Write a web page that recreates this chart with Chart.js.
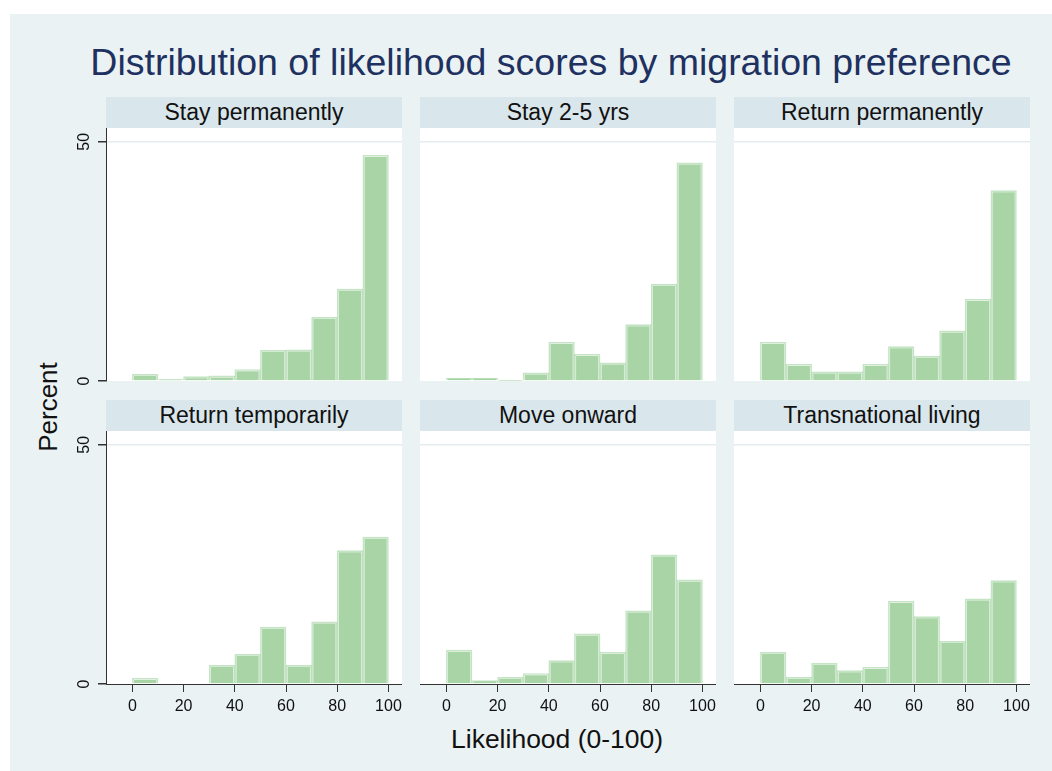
<!DOCTYPE html>
<html>
<head>
<meta charset="utf-8">
<script src="https://cdn.jsdelivr.net/npm/chart.js@4.4.1/dist/chart.umd.min.js"></script>
<style>
  body { margin: 0; width: 1052px; height: 771px; background: #fff; position: relative; overflow: hidden;
         font-family: "Liberation Sans", Arial, sans-serif; }
  #bg { position: absolute; left: 10px; top: 14px; right: 0; bottom: 0; background: #eaf2f3; }
  .title { position: absolute; left: 0; width: 1102px; top: 43px; line-height: 38px; font-size: 37.5px;
           color: #1e3160; text-align: center; white-space: nowrap; }
  .head { position: absolute; width: 296px; height: 31px; background: #d9e6eb; color: #111;
          font-size: 23px; line-height: 31px; text-align: center; white-space: nowrap; }
  .xtitle { position: absolute; left: 451px; width: 200px; top: 726px; font-size: 26.5px; line-height: 26px;
            text-align: center; color: #111; white-space: nowrap; }
  .ytitle { position: absolute; left: 48px; top: 407px; font-size: 26px; line-height: 26px; color: #111;
            transform: translate(-50%, -50%) rotate(-90deg); white-space: nowrap; }
  canvas { position: absolute; }
</style>
</head>
<body>
<div id="bg"></div>
<div class="title">Distribution of likelihood scores by migration preference</div>
<div class="xtitle">Likelihood (0-100)</div>
<div class="ytitle">Percent</div>
<div id="panels"></div>
<script>
// bin midpoints (bins of width 10 from 0 to 100)
const binMids = [5, 15, 25, 35, 45, 55, 65, 75, 85, 95];
const xTicks = [0, 20, 40, 60, 80, 100];
const yTicks = [0, 50];

const panelTitles = ['Stay permanently', 'Stay 2-5 yrs', 'Return permanently',
                     'Return temporarily', 'Move onward', 'Transnational living'];

// percent per bin
const stayPerm      = [1.4, 0.3, 0.9, 1.1, 2.4, 6.4, 6.5, 13.3, 19.2, 47.2];
const stay25        = [0.6, 0.6, 0.1, 1.7, 8.1, 5.6, 3.8, 11.8, 20.2, 45.6];
const returnPerm    = [8.1, 3.5, 1.9, 1.9, 3.5, 7.2, 5.2, 10.5, 17.1, 39.8];
const returnTemp    = [1.2, 0, 0, 3.9, 6.2, 11.9, 3.9, 13.0, 27.9, 30.7];
const moveOnward    = [7.1, 0.7, 1.4, 2.2, 4.9, 10.5, 6.7, 15.3, 27.0, 21.8];
const transnational = [6.6, 1.4, 4.3, 2.8, 3.5, 17.3, 14.1, 8.9, 17.8, 21.6];

const panelData = [stayPerm, stay25, returnPerm, returnTemp, moveOnward, transnational];

const FONT = '"Liberation Sans", Arial, sans-serif';
Chart.defaults.font.family = FONT;
Chart.defaults.color = '#111';

const colLeft = [106, 420, 734];
const panelW = 296;
const rowHeadTop = [97, 400];
const plotH = 253;
const yAxisW = 47;
const xAxisH = 40;
const topRowPad = 12;

// white plot area
const plotBg = {
  id: 'plotBg',
  beforeDraw(chart) {
    const a = chart.chartArea;
    chart.ctx.save();
    chart.ctx.fillStyle = '#ffffff';
    chart.ctx.fillRect(a.left, a.top, a.right - a.left, a.bottom - a.top);
    chart.ctx.restore();
  }
};

// vertical y tick labels like Stata
const rotatedYLabels = {
  id: 'rotatedYLabels',
  afterDraw(chart, args, opts) {
    if (!opts.show) return;
    const y = chart.scales.y;
    const ctx = chart.ctx;
    ctx.save();
    ctx.fillStyle = '#111';
    ctx.font = '16px ' + FONT;
    ctx.textAlign = 'center';
    ctx.textBaseline = 'middle';
    yTicks.forEach(v => {
      ctx.save();
      ctx.translate(y.left + 25, y.getPixelForValue(v));
      ctx.rotate(-Math.PI / 2);
      ctx.fillText(String(v), 0, 1);
      ctx.restore();
    });
    ctx.restore();
  }
};

const holder = document.getElementById('panels');

panelData.forEach((vals, i) => {
  const row = Math.floor(i / 3);
  const col = i % 3;
  const isLeft = col === 0;
  const isBottom = row === 1;

  const head = document.createElement('div');
  head.className = 'head';
  head.style.left = colLeft[col] + 'px';
  head.style.top = rowHeadTop[row] + 'px';
  head.textContent = panelTitles[i];
  holder.appendChild(head);

  const leftExtra = isLeft ? yAxisW : 0;
  const bottomExtra = isBottom ? xAxisH : topRowPad;
  const cv = document.createElement('canvas');
  const w = panelW + leftExtra;
  const h = plotH + bottomExtra;
  cv.width = w; cv.height = h;
  cv.style.width = w + 'px'; cv.style.height = h + 'px';
  cv.style.left = (colLeft[col] - leftExtra) + 'px';
  cv.style.top = (rowHeadTop[row] + 31) + 'px';
  holder.appendChild(cv);

  const points = binMids.map((x, k) => ({ x: x, y: vals[k] }));

  new Chart(cv, {
    type: 'bar',
    data: {
      datasets: [
        {
          data: points,
          backgroundColor: 'rgba(0,0,0,0)',
          borderColor: 'rgba(150,205,150,0.55)',
          borderWidth: 1,
          barPercentage: 1,
          categoryPercentage: 1,
          order: 0
        },
        {
          data: points,
          backgroundColor: '#a8d4a6',
          borderColor: '#ffffff',
          borderWidth: 2,
          barPercentage: 1,
          categoryPercentage: 1,
          order: 1
        }
      ]
    },
    options: {
      responsive: false,
      animation: false,
      grouped: false,
      layout: { padding: { bottom: isBottom ? 0 : topRowPad } },
      plugins: {
        legend: { display: false },
        tooltip: { enabled: false },
        rotatedYLabels: { show: isLeft }
      },
      scales: {
        x: {
          type: 'linear',
          min: -10.3,
          max: 105.3,
          offset: false,
          display: isBottom,
          afterBuildTicks: s => { s.ticks = xTicks.map(v => ({ value: v })); },
          afterFit: s => {
            s.height = isBottom ? xAxisH : 0;
            s.paddingLeft = 0;
            s.paddingRight = 0;
          },
          grid: { offset: false, drawOnChartArea: false, drawTicks: true, tickLength: 8, tickColor: '#333', color: '#333' },
          border: { display: true, color: '#333', width: 1 },
          ticks: { font: { size: 16 }, color: '#111', padding: 5, maxRotation: 0 }
        },
        y: {
          min: 0,
          max: 52.9,
          afterBuildTicks: s => { s.ticks = yTicks.map(v => ({ value: v })); },
          afterFit: s => {
            s.width = leftExtra;
            s.paddingTop = 0;
            s.paddingBottom = 0;
          },
          grid: {
            color: c => (c.tick && c.tick.value === 50) ? '#e3ecef' : 'rgba(0,0,0,0)',
            lineWidth: 1.5,
            drawTicks: isLeft,
            tickLength: 8,
            tickColor: '#333'
          },
          border: { display: isLeft, color: '#333', width: 1 },
          ticks: { display: false }
        }
      }
    },
    plugins: [plotBg, rotatedYLabels]
  });
});
</script>
</body>
</html>
